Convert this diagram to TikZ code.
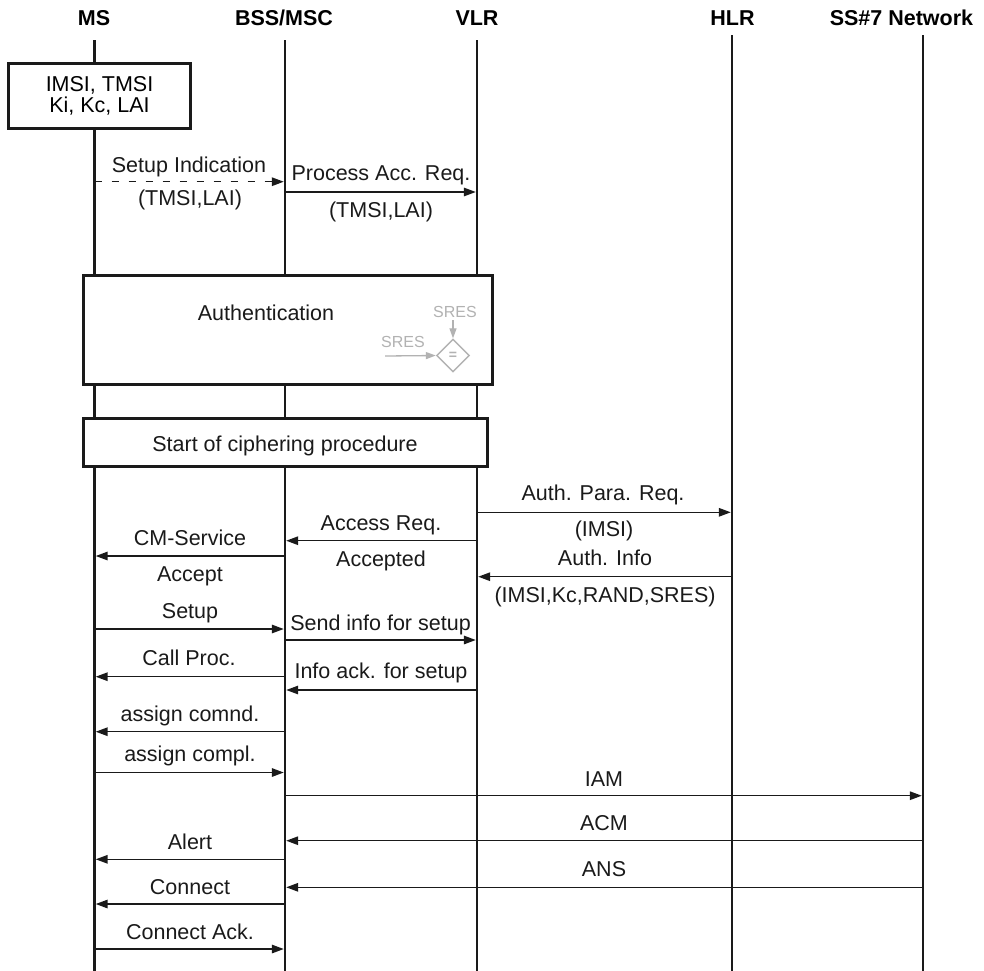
\documentclass[tikz,border=0pt]{standalone}
\usepackage{fontspec}
\setmainfont{Liberation Sans}
\usetikzlibrary{arrows.meta,shapes.geometric}
\definecolor{lgray}{HTML}{B2B2B2}
\definecolor{ink}{HTML}{1A1A1A}
\tikzset{
  title/.style={font=\fontsize{21.5}{24}\selectfont\bfseries, inner sep=0pt, text height=15.5pt, text depth=0pt},
  lbl/.style={font=\fontsize{21.5}{24}\selectfont, inner sep=0pt, text height=15.5pt, text depth=0pt, text=ink},
  life/.style={line width=2.6pt, draw=ink},
  msg/.style={line width=1.5pt, draw=ink, -{Triangle[length=12pt,width=8.5pt]}, shorten >=1.2pt},
  dmsg/.style={msg, dash pattern=on 7pt off 10pt},
  bigbox/.style={draw=ink, line width=3pt, fill=white, inner sep=0pt},
  glbl/.style={font=\fontsize{16}{18}\selectfont, text=lgray, inner sep=0pt, text height=11.5pt, text depth=0pt},
  gmsg/.style={line width=1.3pt, draw=lgray, -{Triangle[length=10pt,width=7pt]}}
}
\begin{document}
\begin{tikzpicture}[x=1pt,y=-1pt]
\useasboundingbox (0,0) rectangle (984,970);
% titles
\node[title] (tMS)  at (94,17.5) {MS};
\node[title] (tBSS) at (284,17.5) {BSS/MSC};
\node[title] (tVLR) at (477,17.5) {VLR};
\node[title] (tHLR) at (732.5,17.5) {HLR};
\node[title] (tSS7) at (901.5,17.5) {SS\#7 Network};
% lifeline x positions
\coordinate (MS)  at (94.5,40);
\coordinate (BSS) at (285,40);
\coordinate (VLR) at (477,40);
\coordinate (HLR) at (732,35);
\coordinate (SS7) at (923,35);
\coordinate (MSe)  at (94.5,972);
\coordinate (BSSe) at (285,972);
\coordinate (VLRe) at (477,972);
\coordinate (HLRe) at (732,972);
\coordinate (SS7e) at (923,972);
\draw[life] (MS) -- (MSe);
\draw[life] (BSS) -- (BSSe);
\draw[life] (VLR) -- (VLRe);
\draw[life] (HLR) -- (HLRe);
\draw[life] (SS7) -- (SS7e);
% MS box
\node[bigbox, minimum width=182.4pt, minimum height=65pt, align=center,
      font=\fontsize{21.5}{20.5}\selectfont] (msbox) at (99.5,95.8) {IMSI, TMSI\\Ki, Kc, LAI};
% Setup indication
\draw[dmsg] (MS |- 0,181.7) -- (BSS |- 0,181.7);
\node[lbl] (l1a) at (189,164.5) {Setup Indication};
\node[lbl] (l1b) at (190,198) {(TMSI,LAI)};
\draw[msg] (BSS |- 0,192) -- (VLR |- 0,192);
\node[lbl] (l2a) at (381,172.5) {Process Acc. Req.};
\node[lbl] (l2b) at (381,210) {(TMSI,LAI)};
% Authentication box
\node[bigbox, minimum width=409pt, minimum height=109pt] (auth) at (287.5,329.5) {};
\node[lbl] (authl) at (266,312.5) {Authentication};
\node[draw=lgray, line width=1.4pt, diamond, aspect=1, minimum width=33pt, minimum height=33pt, inner sep=0pt] (cmp) at (453,355.5) {};
\node[font=\fontsize{14}{14}\selectfont\bfseries, text=lgray, inner sep=0pt] (eq) at (cmp.center) {=};
\node[glbl] (sres1) at (455,311.5) {SRES};
\node[glbl] (sres2) at (403,342) {SRES};
\draw[gmsg] (sres1.south -| cmp.north) ++(0,3) -- (cmp.north);
\coordinate (sresin) at (385,356);
\draw[gmsg] (sresin) -- (cmp.west);
% Ciphering box
\node[bigbox, minimum width=404pt, minimum height=48pt] (ciph) at (285,442) {};
\node[lbl] (ciphl) at (285,444) {Start of ciphering procedure};
% Auth para req
\draw[msg] (VLR |- 0,512.3) -- (HLR |- 0,512.3);
\node[lbl] (l3a) at (603,493) {Auth. Para. Req.};
\node[lbl] (l3b) at (604,528.3) {(IMSI)};
\draw[msg] (VLR |- 0,540.7) -- (BSS |- 0,540.7);
\node[lbl] (l4a) at (381,522.5) {Access Req.};
\node[lbl] (l4b) at (381,558.5) {Accepted};
\draw[msg] (BSS |- 0,556) -- (MS |- 0,556);
\node[lbl] (l5a) at (190,537.5) {CM-Service};
\node[lbl] (l5b) at (190,574) {Accept};
\draw[msg] (HLR |- 0,576.7) -- (VLR |- 0,576.7);
\node[lbl] (l6a) at (605,557.5) {Auth. Info};
\node[lbl] (l6b) at (605,595) {(IMSI,Kc,RAND,SRES)};
\draw[msg] (MS |- 0,629) -- (BSS |- 0,629);
\node[lbl] (l7) at (190,610.5) {Setup};
\draw[msg] (BSS |- 0,640) -- (VLR |- 0,640);
\node[lbl] (l8) at (380.5,622.5) {Send info for setup};
\draw[msg] (BSS |- 0,676.7) -- (MS |- 0,676.7);
\node[lbl] (l9) at (189,658) {Call Proc.};
\draw[msg] (VLR |- 0,690) -- (BSS |- 0,690);
\node[lbl] (l10) at (381,671) {Info ack. for setup};
\draw[msg] (BSS |- 0,731.7) -- (MS |- 0,731.7);
\node[lbl] (l11) at (190,714) {assign comnd.};
\draw[msg] (MS |- 0,772.5) -- (BSS |- 0,772.5);
\node[lbl] (l12) at (190,754) {assign compl.};
\draw[msg] (BSS |- 0,795.7) -- (SS7 |- 0,795.7);
\node[lbl] (l13) at (604,778.3) {IAM};
\draw[msg] (SS7 |- 0,840.7) -- (BSS |- 0,840.7);
\node[lbl] (l14) at (604,822.7) {ACM};
\draw[msg] (BSS |- 0,859.3) -- (MS |- 0,859.3);
\node[lbl] (l15) at (190,841.7) {Alert};
\draw[msg] (SS7 |- 0,887.3) -- (BSS |- 0,887.3);
\node[lbl] (l16) at (604,869) {ANS};
\draw[msg] (BSS |- 0,904) -- (MS |- 0,904);
\node[lbl] (l17) at (190,886.7) {Connect};
\draw[msg] (MS |- 0,949) -- (BSS |- 0,949);
\node[lbl] (l18) at (190,931.7) {Connect Ack.};
\end{tikzpicture}
\end{document}
